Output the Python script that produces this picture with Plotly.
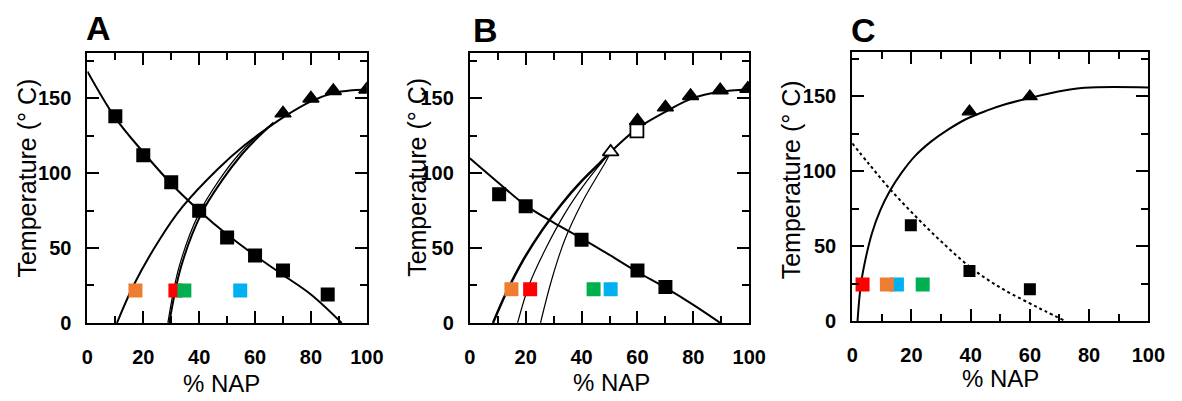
import plotly.graph_objects as go

# ---------------- data ----------------
# Panel A
A_sq_x = [10, 20, 30, 40, 50, 60, 70, 86]
A_sq_y = [138, 112, 94, 75, 57, 45, 35, 19]
A_tri_x = [70, 80, 88, 100]
A_tri_y = [140, 150, 155, 156]
A_fit_x = [0, 10, 20, 30, 40, 50, 60, 70, 80, 91]
A_fit_y = [168, 137, 114, 93, 75, 59, 45, 32, 19, 0]
A_c1_x = [10.6, 16.5, 25.8, 34, 46.8, 56.1, 63.2, 70.2, 80, 88, 95, 100]
A_c1_y = [0, 25, 55.6, 77.5, 103, 118.5, 128.5, 137.5, 148, 153.5, 155.5, 156]
A_c2_x = [28.8, 32.9, 39.9, 46.9, 53.9, 59.7, 66.6]
A_c2_y = [0, 38, 73, 94.7, 112, 123, 133.7]
A_c3_x = [29.3, 33.6, 40.8, 48.0, 55.0, 60.5, 66.6]
A_c3_y = [0, 38, 73, 94.7, 112, 123, 133.7]
A_col_x = [17.2, 31.5, 34.7, 54.7]
A_col_y = [21.6, 21.6, 21.6, 21.6]
A_col_c = ["#ED7D31", "#FF0000", "#00B050", "#00B0F0"]

# Panel B
B_sq_x = [10.5, 20, 40, 60, 70]
B_sq_y = [86, 78, 55.6, 35, 24]
B_tri_x = [60, 70, 79, 89.6, 99.5]
B_tri_y = [135, 144, 151.6, 155.5, 156.5]
B_open_tri_x = [50.4]
B_open_tri_y = [114.2]
B_open_sq_x = [59.8]
B_open_sq_y = [128.3]
B_fit_x = [0, 10, 20, 30, 40, 50, 60, 70, 80, 89.6]
B_fit_y = [110, 94, 78.5, 67, 56.5, 45.4, 34, 23.5, 12, 0]
B_up_x = [50.4, 60, 70.3, 79.6, 89.3, 99.5]
B_up_y = [114.2, 130, 141.4, 150, 154.4, 156]
B_c1_x = [8.3, 13, 18.8, 25.9, 32.9, 39.9, 46.9, 50.4]
B_c1_y = [0, 20, 41, 62, 79.5, 94.5, 107.5, 114.2]
B_c2_x = [17.1, 21.2, 27, 34, 41, 46.9, 50.4]
B_c2_y = [0, 25.2, 49, 73, 92.5, 106.5, 114.2]
B_c3_x = [25.3, 29.4, 34, 39.9, 44.6, 48.6, 50.4]
B_c3_y = [0, 29.5, 55.6, 79.5, 95, 107.5, 114.2]
B_col_x = [14.9, 21.6, 44.3, 50.4]
B_col_y = [22.5, 22.5, 22.5, 22.5]
B_col_c = ["#ED7D31", "#FF0000", "#00B050", "#00B0F0"]

# Panel C
C_sq_x = [19.8, 39.6, 60]
C_sq_y = [63.9, 33.3, 21.1]
C_tri_x = [39.6, 60]
C_tri_y = [139.9, 150]
C_sol_x = [1.8, 2.9, 4.5, 6.7, 9.5, 12.8, 16.7, 21.1, 26.6, 32.1, 38.7, 45.4, 52, 60, 70, 78.5, 100]
C_sol_y = [0, 24, 41.4, 58.8, 74, 87.1, 99.1, 110, 119.8, 127.5, 135.1, 140.5, 144.9, 149, 153.5, 155.8, 156]
C_dash_x = [0, 5.6, 12.8, 21.1, 29.9, 39.8, 49.8, 59.7, 65.2, 71.9]
C_dash_y = [118.7, 105, 88, 70.5, 53.4, 36, 22.5, 12, 6.5, 0]
C_col_x = [3.5, 15.1, 11.7, 23.8]
C_col_y = [24.3, 24.3, 24.3, 24.3]
C_col_c = ["#FF0000", "#00B0F0", "#ED7D31", "#00B050"]

X_RANGE = [0, 100]
Y_RANGE = [0, 180]
PANEL_LABELS = ["A", "B", "C"]
X_TITLE = "% NAP"
Y_TITLE = "Temperature (° C)"

# ---------------- figure ----------------
W, H = 1182, 401
fig = go.Figure()


def line(x, y, xa, ya, width=2, dash="solid"):
    fig.add_trace(go.Scatter(x=x, y=y, mode="lines", xaxis=xa, yaxis=ya,
                             line=dict(color="black", width=width, dash=dash, shape="spline", smoothing=1.0),
                             hoverinfo="skip", showlegend=False))


def marks(x, y, xa, ya, symbol, size, color="black", lw=0, lc="black"):
    fig.add_trace(go.Scatter(x=x, y=y, mode="markers", xaxis=xa, yaxis=ya,
                             marker=dict(symbol=symbol, size=size, color=color,
                                         line=dict(width=lw, color=lc)),
                             showlegend=False))


# Panel A
line(A_fit_x, A_fit_y, "x", "y", 2)
line(A_c1_x, A_c1_y, "x", "y", 2)
line(A_c2_x, A_c2_y, "x", "y", 1.2)
line(A_c3_x, A_c3_y, "x", "y", 2)
marks(A_sq_x, A_sq_y, "x", "y", "square", 14)
marks(A_tri_x, A_tri_y, "x", "y", "triangle-up", 14, "black", 1.5)
marks(A_col_x, A_col_y, "x", "y", "square", 14, A_col_c)

# Panel B
line(B_fit_x, B_fit_y, "x2", "y2", 2)
line(B_up_x, B_up_y, "x2", "y2", 2)
line(B_c1_x, B_c1_y, "x2", "y2", 2.5)
line(B_c2_x, B_c2_y, "x2", "y2", 1.2)
line(B_c3_x, B_c3_y, "x2", "y2", 1.2)
marks(B_sq_x, B_sq_y, "x2", "y2", "square", 14)
marks(B_tri_x, B_tri_y, "x2", "y2", "triangle-up", 14, "black", 1.5)
marks(B_open_sq_x, B_open_sq_y, "x2", "y2", "square", 13, "white", 1.8)
marks(B_open_tri_x, B_open_tri_y, "x2", "y2", "triangle-up", 14, "white", 1.8)
marks(B_col_x, B_col_y, "x2", "y2", "square", 14, B_col_c)

# Panel C
line(C_sol_x, C_sol_y, "x3", "y3", 2)
line(C_dash_x, C_dash_y, "x3", "y3", 2, "3px,3px")
marks(C_sq_x, C_sq_y, "x3", "y3", "square", 12)
marks(C_tri_x, C_tri_y, "x3", "y3", "triangle-up", 13, "black", 1.2)
marks(C_col_x, C_col_y, "x3", "y3", "square", 14, C_col_c)

tickfont = dict(family="Liberation Sans, Arial, sans-serif", size=20, color="black", weight="bold")


def xaxis(dom, anchor):
    return dict(domain=dom, anchor=anchor, range=X_RANGE, showline=True, linewidth=2, linecolor="black",
                mirror="ticks", ticks="inside", ticklen=12, tickwidth=2, tickcolor="black",
                tick0=0, dtick=20, minor=dict(dtick=10, ticks="inside", ticklen=7, tickwidth=2, tickcolor="black"),
                showgrid=False, zeroline=False, tickfont=tickfont, ticklabelstandoff=15, fixedrange=True)


def yaxis(dom, anchor):
    return dict(domain=dom, anchor=anchor, range=Y_RANGE, showline=True, linewidth=2, linecolor="black",
                mirror="ticks", ticks="inside", ticklen=12, tickwidth=2, tickcolor="black",
                tick0=0, dtick=50, minor=dict(dtick=25, ticks="inside", ticklen=7, tickwidth=2, tickcolor="black"),
                showgrid=False, zeroline=False, tickfont=tickfont, ticklabelstandoff=10, fixedrange=True)


px = lambda v: v / W
py = lambda v: 1 - v / H

fig.update_layout(
    width=W, height=H, margin=dict(l=0, r=0, t=0, b=0),
    paper_bgcolor="white", plot_bgcolor="white", showlegend=False,
    xaxis=xaxis([px(83), px(368)], "y"),
    yaxis=yaxis([py(332), py(55)], "x"),
    xaxis2=xaxis([px(473), px(758)], "y2"),
    yaxis2=yaxis([py(332), py(55)], "x2"),
    xaxis3=xaxis([px(863), px(1165)], "y3"),
    yaxis3=yaxis([py(330), py(53)], "x3"),
)

ann = []
label_pos = [(94, 29), (489, 31), (875, 31)]
for lab, (lx, ly) in zip(PANEL_LABELS, label_pos):
    ann.append(dict(text=lab, x=px(lx), y=py(ly), xref="paper", yref="paper", showarrow=False,
                    xanchor="center", yanchor="middle",
                    font=dict(family="Liberation Sans, Arial, sans-serif", size=34, color="black", weight="bold")))
ytitle_pos = [(21, 183), (419, 182), (801, 185)]
for (tx, ty) in ytitle_pos:
    ann.append(dict(text=Y_TITLE, x=px(tx), y=py(ty), xref="paper", yref="paper", showarrow=False,
                    textangle=-90, xanchor="center", yanchor="middle",
                    font=dict(family="Liberation Sans, Arial, sans-serif", size=25, color="black")))
xtitle_pos = [(220, 394), (618, 393), (1014, 389)]
for (tx, ty) in xtitle_pos:
    ann.append(dict(text=X_TITLE, x=px(tx), y=py(ty), xref="paper", yref="paper", showarrow=False,
                    xanchor="center", yanchor="middle",
                    font=dict(family="Liberation Sans, Arial, sans-serif", size=24, color="black")))
fig.update_layout(annotations=ann)

fig.write_html("out.html")
